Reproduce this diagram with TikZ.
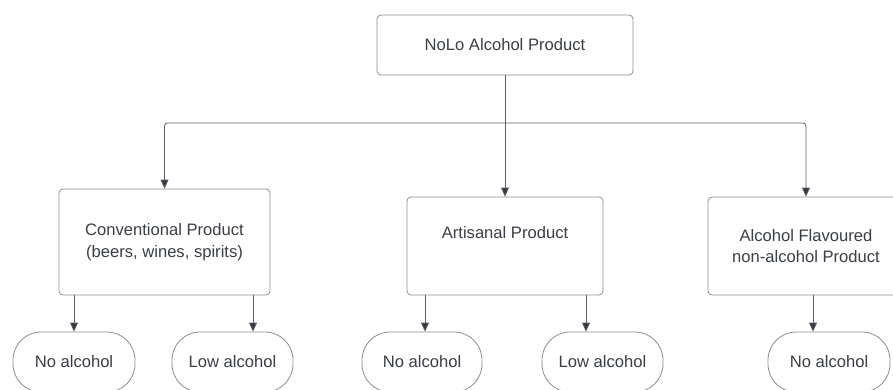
\documentclass[tikz,border=0pt]{standalone}
\usepackage{fontspec}
\setmainfont{Liberation Sans}
\usetikzlibrary{arrows.meta}
\definecolor{txt}{HTML}{3A3E45}
\definecolor{edge}{HTML}{8A8D91}
\definecolor{wire}{HTML}{5A5E63}
\definecolor{tip}{HTML}{333A44}
\tikzset{
  box/.style={draw=edge, line width=0.8pt, rounded corners=4pt, fill=white, text=txt, align=center, inner sep=0pt},
  term/.style={draw=edge, line width=0.8pt, rounded corners=28pt, fill=white, text=txt, align=center, inner sep=0pt, minimum height=60pt},
  wirel/.style={draw=wire, line width=0.8pt},
  arr/.style={wirel, -{Triangle[length=9pt,width=8pt,fill=tip]}, shorten >=0pt},
}
\begin{document}
\begin{tikzpicture}[x=1pt,y=-1pt, font=\fontsize{16.6}{21.5}\selectfont]
\useasboundingbox (0,0) rectangle (893,389);
\clip (0,0) rectangle (893,389);
\node[box, minimum width=256pt, minimum height=60pt] (top) at (505,45) {NoLo Alcohol Product};
\node[box, minimum width=211pt, minimum height=106pt] (conv) at (164.5,242) {Conventional Product\\(beers, wines, spirits)};
\node[box, minimum width=196pt, minimum height=98pt] (art) at (505,246) {Artisanal Product\\\strut};
\node[box, minimum width=196pt, minimum height=98pt] (flav) at (806,246) {Alcohol Flavoured\\non-alcohol Product};
\node[term, minimum width=122pt] (no1) at (74,362) {No alcohol};
\node[term, minimum width=121pt] (low1) at (232.5,362) {Low alcohol};
\node[term, minimum width=120pt] (no2) at (422,362) {No alcohol};
\node[term, minimum width=121pt] (low2) at (602.5,362) {Low alcohol};
\node[term, minimum width=122pt] (no3) at (829,362) {No alcohol};
\coordinate (bus) at (505,123);
\coordinate (x1) at (74,0);
\coordinate (x2) at (253,0);
\coordinate (x3) at (425,0);
\coordinate (x4) at (586,0);
\coordinate (x5) at (813,0);
\draw[wirel] (top.south) -- (bus);
\draw[arr] (bus) -- (art.north);
\draw[arr, rounded corners=3pt] (bus) -| (conv.north);
\draw[arr, rounded corners=3pt] (bus) -| (flav.north);
\draw[arr] (conv.south -| x1) -- (no1.north -| x1);
\draw[arr] (conv.south -| x2) -- (low1.north -| x2);
\draw[arr] (art.south -| x3) -- (no2.north -| x3);
\draw[arr] (art.south -| x4) -- (low2.north -| x4);
\draw[arr] (flav.south -| x5) -- (no3.north -| x5);
\end{tikzpicture}
\end{document}
